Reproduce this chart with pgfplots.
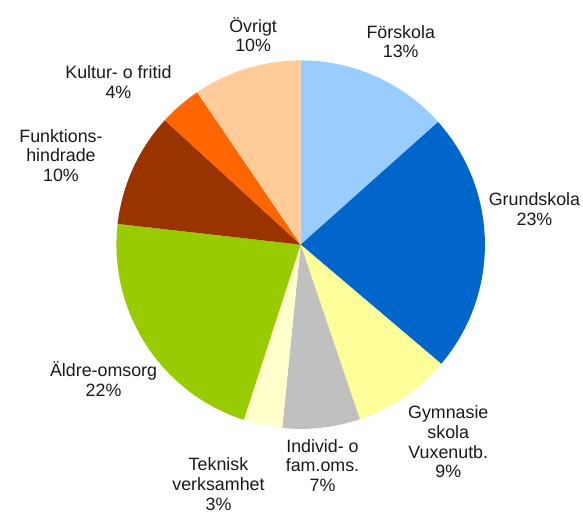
\documentclass[border=0pt]{standalone}
\usepackage{fontspec}
\setmainfont{Liberation Sans}
\usepackage{pgfplots}
\usepackage{pgfplotstable}
\pgfplotsset{compat=1.18}
\definecolor{sl0}{HTML}{99CCFF}
\definecolor{sl1}{HTML}{0066CC}
\definecolor{sl2}{HTML}{FFFF99}
\definecolor{sl3}{HTML}{C0C0C0}
\definecolor{sl4}{HTML}{FFFFCC}
\definecolor{sl5}{HTML}{99CC00}
\definecolor{sl6}{HTML}{993300}
\definecolor{sl7}{HTML}{FF6600}
\definecolor{sl8}{HTML}{FFCC99}
\pgfplotstableread[col sep=comma]{
name,value
Förskola,13.4
Grundskola,22.8
Gymnasie,8.6
Individ,6.8
Teknisk,3.4
Aldre,21.8
Funktions,10.0
Kultur,3.7
Ovrigt,9.5
}\piedata
\begin{document}
\xdef\startangle{90}
\pgfplotsforeachungrouped \i in {0,...,8}{%
  \pgfplotstablegetelem{\i}{value}\of\piedata
  \pgfmathsetmacro\endang{\startangle - 3.6*\pgfplotsretval}%
  \expandafter\xdef\csname sa\i\endcsname{\startangle}%
  \expandafter\xdef\csname ea\i\endcsname{\endang}%
  \xdef\startangle{\endang}%
}
\begin{tikzpicture}
\begin{axis}[
  hide axis, x=1pt, y=1pt,
  xmin=0, xmax=583, ymin=0, ymax=519,
  clip=false,
]
\pgfplotsinvokeforeach{0,...,8}{
  \fill[sl#1] (axis cs:298,272) -- ++(\csname sa#1\endcsname:186pt)
    arc[start angle=\csname sa#1\endcsname, end angle=\csname ea#1\endcsname, radius=186pt] -- cycle;
}
\tikzset{lab/.style={align=center, inner sep=0pt, text=black!90, font=\fontsize{18}{20}\selectfont}}
\node[lab] at (axis cs:399,477) {Förskola\\13\%};
\node[lab] at (axis cs:534,308) {Grundskola\\23\%};
\node[lab] at (axis cs:447,73) {Gymnasie\\skola\\Vuxenutb.\\9\%};
\node[lab] at (axis cs:320,49) {Individ- o\\fam.oms.\\7\%};
\node[lab] at (axis cs:215,30) {Teknisk\\verksamhet\\3\%};
\node[lab] at (axis cs:99,136) {Äldre-omsorg\\22\%};
\node[lab] at (axis cs:56,362) {Funktions-\\hindrade\\10\%};
\node[lab] at (axis cs:114,436) {Kultur- o fritid\\4\%};
\node[lab] at (axis cs:250,484) {Övrigt\\10\%};
\end{axis}
\pgfresetboundingbox
\useasboundingbox (current axis.south west) rectangle (current axis.north east);
\end{tikzpicture}
\end{document}
